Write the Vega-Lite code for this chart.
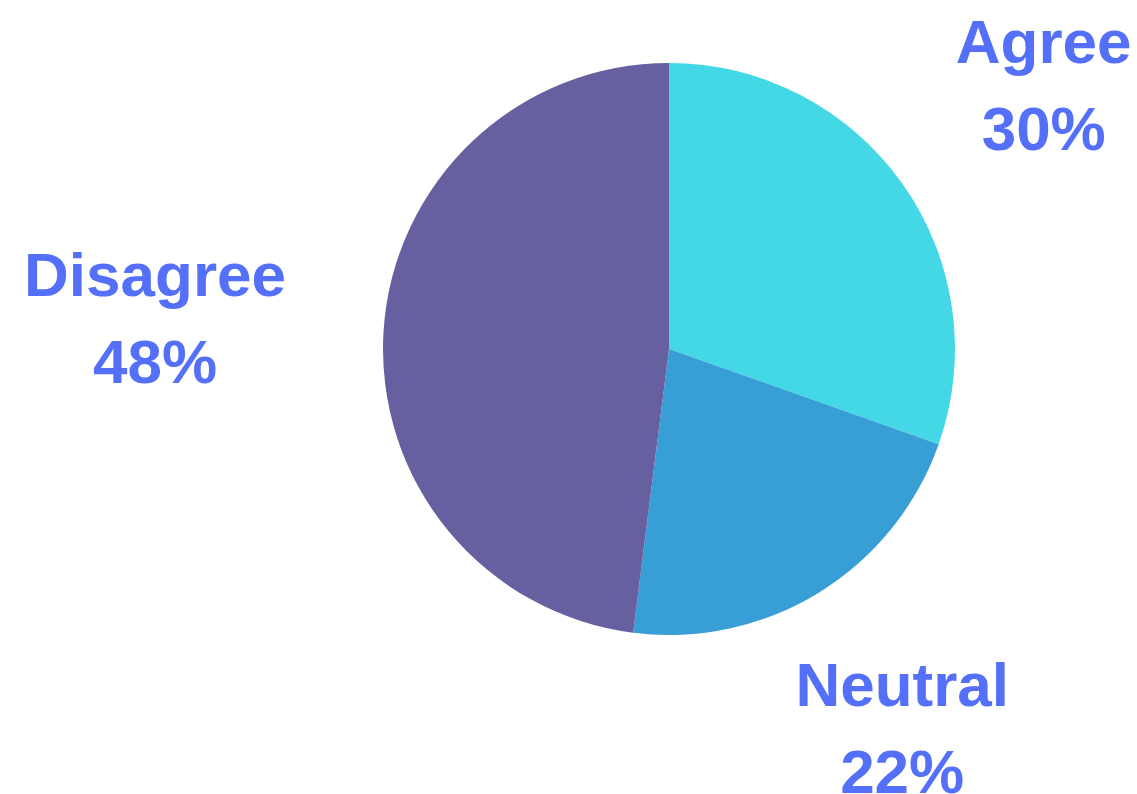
{
  "$schema": "https://vega.github.io/schema/vega-lite/v6.json",
  "autosize": {"type": "none"},
  "width": 936,
  "height": 698,
  "padding": {"left": 201, "top": 0, "right": 0, "bottom": 96},
  "background": "white",
  "config": {"view": {"stroke": null}},
  "data": {"values": [
    {"category": "Agree", "value": 30.4},
    {"category": "Neutral", "value": 21.6},
    {"category": "Disagree", "value": 48}
  ]},
  "transform": [
    {"window": [{"op": "row_number", "as": "idx"}]},
    {"calculate": "datum.category + '\\n' + round(datum.value) + '%'", "as": "label"}
  ],
  "encoding": {
    "theta": {"field": "value", "type": "quantitative", "stack": true},
    "order": {"field": "idx", "type": "quantitative"}
  },
  "layer": [
    {
      "mark": {"type": "arc", "radius": 286},
      "encoding": {
        "color": {
          "field": "category", "type": "nominal",
          "scale": {"domain": ["Agree", "Neutral", "Disagree"], "range": ["#44D8E6", "#379ED6", "#6760A0"]},
          "legend": null
        }
      }
    },
    {
      "mark": {
        "type": "text",
        "radius": {"expr": "datum.category == 'Disagree' ? 515 : datum.category == 'Agree' ? 459 : 444"},
        "font": "Liberation Sans",
        "fontWeight": "bold",
        "fontSize": 62,
        "lineHeight": 87,
        "align": "center",
        "baseline": "middle",
        "dy": -40,
        "lineBreak": "\n",
        "color": "#5470F8"
      },
      "encoding": {
        "text": {"field": "label", "type": "nominal"}
      }
    }
  ]
}
